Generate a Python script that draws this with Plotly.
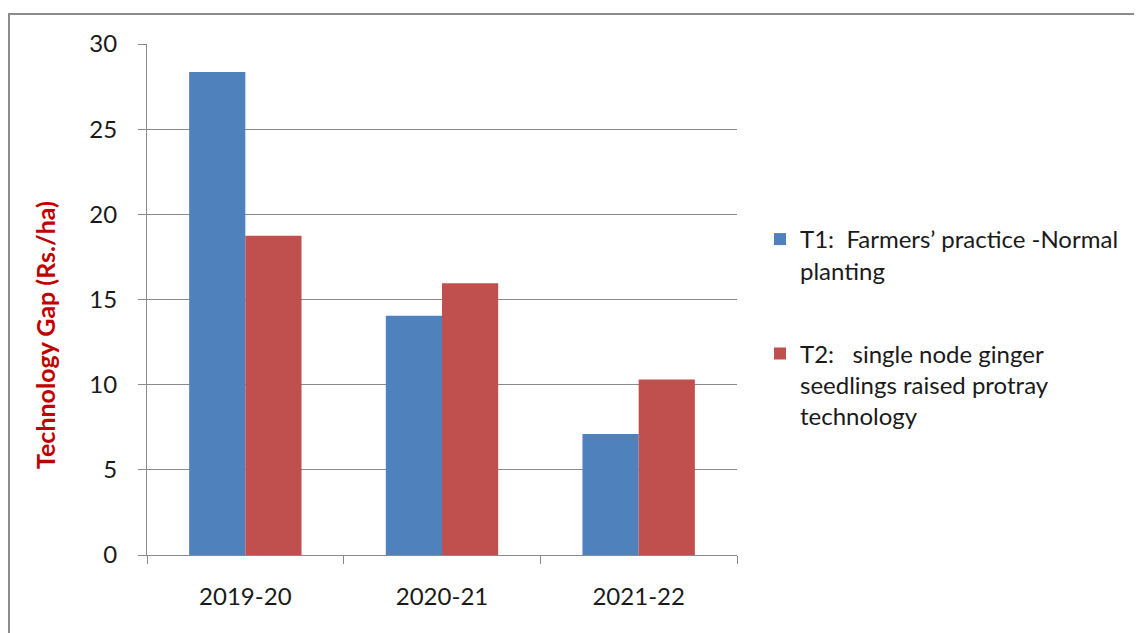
import plotly.graph_objects as go

# data
seasons = ["2019-20", "2020-21", "2021-22"]
t1_gap = [28.35, 14.05, 7.1]
t2_gap = [18.75, 15.95, 10.3]
t1_name = "T1:  Farmers’ practice -Normal<br>planting"
t2_name = "T2:   single node ginger<br>seedlings raised protray<br>technology"
y_ticks = [0, 5, 10, 15, 20, 25, 30]

FONT = "Lato"
GRID = "#8a8a8a"

# the page body adds an 8px margin, so work in window pixels and shift
OFF = 8
W, H = 1142, 633
# plot area in window pixels: x 147..737, y 44..555
L, R, T, B = 147 - OFF, 737 - OFF, 44 - OFF, 555 - OFF


def px_x(p):
    return (p - OFF - L) / (R - L)


def px_y(p):
    return (B - (p - OFF)) / (B - T)


fig = go.Figure()
fig.add_trace(go.Bar(
    x=seasons, y=t1_gap, name=t1_name, legendgroup="t1",
    marker=dict(color="#4F81BD", line=dict(width=0))
))
fig.add_trace(go.Bar(
    x=seasons, y=t2_gap, name=t2_name, legendgroup="t2",
    marker=dict(color="#C0504D", line=dict(width=0))
))

fig.update_layout(
    width=W, height=H,
    margin=dict(l=L, r=W - R, t=T, b=H - B, pad=0),
    paper_bgcolor="white",
    plot_bgcolor="white",
    barmode="group",
    bargap=1.5 / 3.5,
    bargroupgap=0,
    font=dict(family=FONT, size=24, color="#1a1a1a"),
    showlegend=True,
    legend=dict(
        x=px_x(760), y=px_y(217), xanchor="left", yanchor="top",
        font=dict(family=FONT, size=24, color="#1a1a1a"),
        valign="top", tracegroupgap=49, bgcolor="rgba(0,0,0,0)",
        itemclick=False
    ),
)

fig.update_yaxes(
    range=[0, 30], tickvals=y_ticks, showgrid=True, gridcolor=GRID,
    gridwidth=1, showline=True, linecolor=GRID, linewidth=1,
    ticks="outside", ticklen=8, tickcolor=GRID, zeroline=False,
    ticklabelstandoff=16
)
fig.update_xaxes(
    type="category", tickson="boundaries", ticks="outside", ticklen=8,
    tickcolor=GRID, showline=True, linecolor=GRID, linewidth=1,
    showgrid=False, ticklabelstandoff=20
)

# y-axis title sits a little below the axis centre in the reference
fig.add_annotation(
    text="<b>Technology Gap (Rs./ha)</b>", textangle=-90,
    xref="paper", yref="paper", x=px_x(45), y=px_y(335),
    xanchor="center", yanchor="middle",
    showarrow=False, font=dict(family=FONT, size=25, color="#C00000")
)

# outer chart border
fig.add_shape(
    type="rect", xref="paper", yref="paper",
    x0=px_x(9), x1=px_x(1160), y0=px_y(660), y1=px_y(14),
    line=dict(color="#8c8c8c", width=2), fillcolor="rgba(0,0,0,0)",
    layer="below"
)

fig.write_html("out.html")
